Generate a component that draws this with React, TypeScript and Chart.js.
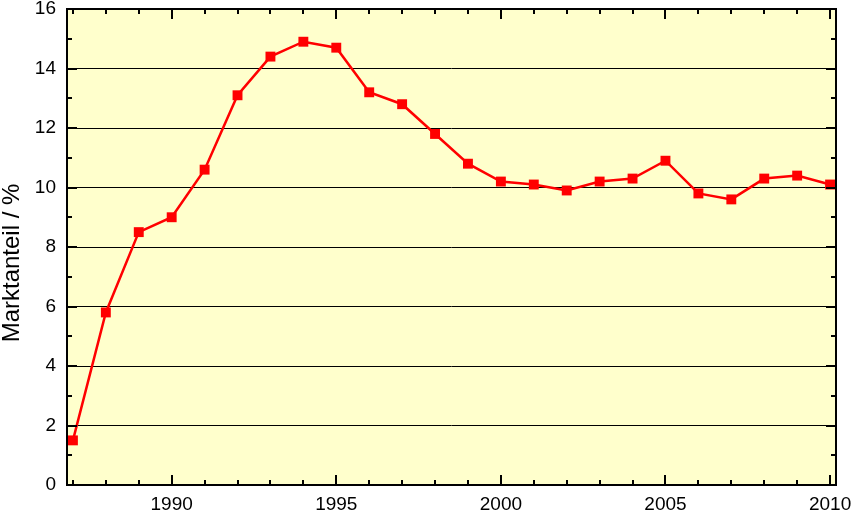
import React, { useEffect, useRef } from "react";
import { Chart, registerables } from "chart.js";

Chart.register(...registerables);

const years = [1987, 1988, 1989, 1990, 1991, 1992, 1993, 1994, 1995, 1996, 1997, 1998, 1999, 2000, 2001, 2002, 2003, 2004, 2005, 2006, 2007, 2008, 2009, 2010];
const marketShare = [1.5, 5.8, 8.5, 9.0, 10.6, 13.1, 14.4, 14.9, 14.7, 13.2, 12.8, 11.8, 10.8, 10.2, 10.1, 9.9, 10.2, 10.3, 10.9, 9.8, 9.6, 10.3, 10.4, 10.1];
const xTickValues = [1990, 1995, 2000, 2005, 2010];
const xMinorTicks = years;
const yTickValues = [0, 2, 4, 6, 8, 10, 12, 14, 16];
const yMinorTicks = [1, 3, 5, 7, 9, 11, 13, 15];
const yTitle = "Marktanteil / %";

const FONT = "'Liberation Sans', Arial, sans-serif";

const framePlugin = {
  id: "frame",
  beforeDraw(chart: any) {
    const { ctx, chartArea: a } = chart;
    ctx.save();
    ctx.fillStyle = "#FFFFCC";
    ctx.fillRect(a.left, a.top, a.right - a.left, a.bottom - a.top);
    ctx.restore();
  },
  afterDraw(chart: any) {
    const { ctx, chartArea: a } = chart;
    const xs = chart.scales.x;
    const ys = chart.scales.y;
    ctx.save();
    ctx.strokeStyle = "#000";
    ctx.lineWidth = 2;
    ctx.beginPath();
    const major = 10;
    const minor = 5;
    xMinorTicks.forEach((v) => {
      const px = Math.round(xs.getPixelForValue(v));
      const len = xTickValues.includes(v) ? major : minor;
      ctx.moveTo(px, a.bottom);
      ctx.lineTo(px, a.bottom - len);
      ctx.moveTo(px, a.top);
      ctx.lineTo(px, a.top + len);
    });
    yTickValues.concat(yMinorTicks).forEach((v) => {
      const py = Math.round(ys.getPixelForValue(v));
      const len = yTickValues.includes(v) ? major : minor;
      ctx.moveTo(a.left, py);
      ctx.lineTo(a.left + len, py);
      ctx.moveTo(a.right, py);
      ctx.lineTo(a.right - len, py);
    });
    ctx.stroke();
    ctx.strokeRect(a.left, a.top, a.right - a.left, a.bottom - a.top);
    // y axis title
    ctx.translate(19, (a.top + a.bottom) / 2 + 16);
    ctx.rotate(-Math.PI / 2);
    ctx.fillStyle = "#000";
    ctx.font = `24px ${FONT}`;
    ctx.textAlign = "center";
    ctx.textBaseline = "alphabetic";
    ctx.fillText(yTitle, 0, 0);
    ctx.restore();
  },
};

export default function App() {
  const ref = useRef<HTMLCanvasElement>(null);
  useEffect(() => {
    document.body.style.margin = "0";
    const chart = new Chart(ref.current!, {
      type: "line",
      data: {
        datasets: [
          {
            data: years.map((y, i) => ({ x: y, y: marketShare[i] })),
            borderColor: "#FF0000",
            backgroundColor: "#FF0000",
            borderWidth: 2.5,
            pointStyle: "rect",
            pointRadius: 7,
            pointBorderWidth: 0,
            tension: 0,
            clip: false as any,
          },
        ],
      },
      options: {
        responsive: false,
        animation: false,
        layout: { padding: { top: 9, right: 16, bottom: 0, left: 0 } },
        plugins: { legend: { display: false }, tooltip: { enabled: false } },
        scales: {
          x: {
            type: "linear",
            min: 1986.82,
            max: 2010.18,
            afterBuildTicks: (scale: any) => {
              scale.ticks = xTickValues.map((value) => ({ value }));
            },
            afterFit: (scale: any) => {
              scale.height = 27;
              scale.paddingLeft = 0;
              scale.paddingRight = 0;
            },
            grid: { display: false, drawTicks: false },
            border: { display: false },
            ticks: {
              color: "#000",
              font: { family: FONT, size: 19 },
              padding: 8,
              maxRotation: 0,
              autoSkip: false,
              callback: (v: any) => String(v),
            },
          },
          y: {
            type: "linear",
            min: 0,
            max: 16,
            afterBuildTicks: (scale: any) => {
              scale.ticks = yTickValues.map((value) => ({ value }));
            },
            afterFit: (scale: any) => {
              scale.width = 67;
              scale.paddingTop = 0;
              scale.paddingBottom = 0;
            },
            grid: { color: "#000", lineWidth: 1, drawTicks: false },
            border: { display: false },
            ticks: {
              color: "#000",
              font: { family: FONT, size: 19 },
              padding: 11,
              callback: (v: any) => String(v),
            },
          },
        },
      },
      plugins: [framePlugin],
    });
    return () => chart.destroy();
  }, []);
  return <canvas ref={ref} width={852} height={512} style={{ display: "block" }} />;
}
